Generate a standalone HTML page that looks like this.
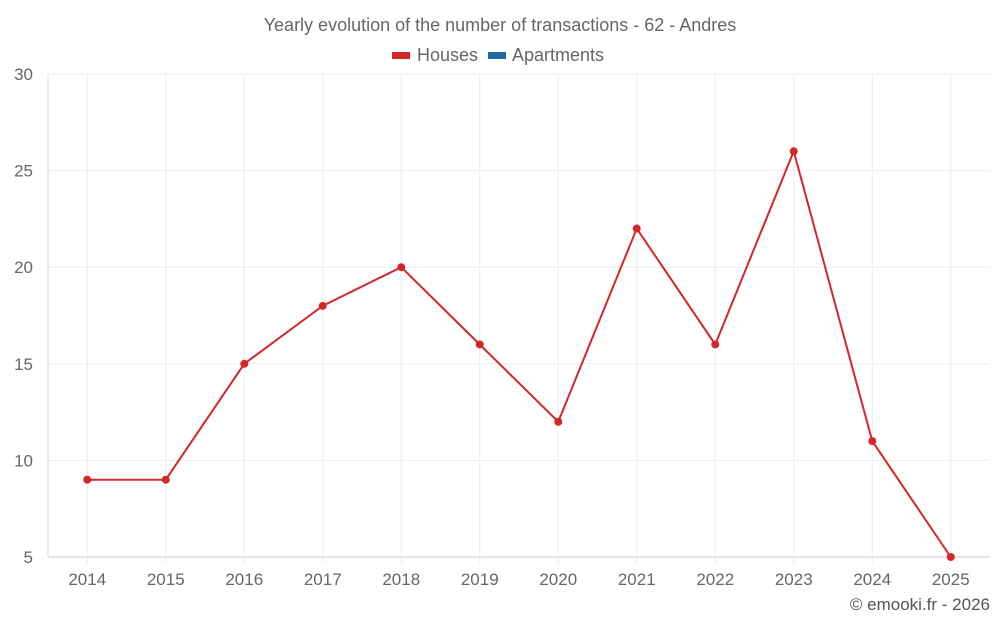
<!DOCTYPE html>
<html><head><meta charset="utf-8"><style>
body{margin:0;background:#fff;font-family:"Liberation Sans",sans-serif;}
svg text{font-family:"Liberation Sans",sans-serif;}
</style></head><body>
<svg id="chart" width="1000" height="625">
<text x="500" y="31" text-anchor="middle" font-size="18" fill="#666">Yearly evolution of the number of transactions - 62 - Andres</text>
<g>
<g><rect x="392" y="52" width="18" height="7" fill="#d62728"></rect><text x="417" y="61" font-size="18" fill="#666">Houses</text></g>
<g><rect x="488" y="52" width="18" height="7" fill="#1f6aa5"></rect><text x="512" y="61" font-size="18" fill="#666">Apartments</text></g>
</g>
<g id="grid"></g><g id="axes"></g><g id="series"></g>
<text x="990" y="610" text-anchor="end" font-size="17" fill="#555">© emooki.fr - 2026</text>
</svg>
<script>
const categories=["2014","2015","2016","2017","2018","2019","2020","2021","2022","2023","2024","2025"];
const houses=[9,9,15,18,20,16,12,22,16,26,11,5];
const yTicks=[5,10,15,20,25,30];
const L=48,R=990,T=74,B=557,yMin=5,yMax=30;
const bw=(R-L)/categories.length;
const xs=i=>L+bw*(i+0.5);
const ys=v=>B-(v-yMin)/(yMax-yMin)*(B-T);
const NS="http://www.w3.org/2000/svg";
function mk(t,a,p){const e=document.createElementNS(NS,t);for(const k in a)e.setAttribute(k,a[k]);p.appendChild(e);return e;}
const g=document.getElementById('grid'),ax=document.getElementById('axes'),s=document.getElementById('series');
yTicks.forEach(v=>{
 const l=mk('line',{x1:L,x2:R,y1:ys(v),y2:ys(v),stroke:v===yMin?'#ccc':'#ebebeb'},g);
 
 
 const t=mk('text',{x:33,y:ys(v)+6,'text-anchor':'end','font-size':17,fill:'#666'},ax);t.textContent=v;
 
 
});
categories.forEach((c,i)=>{
 const l=mk('line',{x1:xs(i),x2:xs(i),y1:T,y2:B+6,stroke:'#ebebeb'},g);
 
 
 const t=mk('text',{x:xs(i),y:585,'text-anchor':'middle','font-size':17,fill:'#666'},ax);t.textContent=c;
 
 
});
const al=mk('line',{x1:L,x2:L,y1:T,y2:B,stroke:'#ddd'},ax);


const p=mk('polyline',{points:houses.map((v,i)=>xs(i)+','+ys(v)).join(' '),fill:'none',stroke:'#d62728','stroke-width':2},s);


houses.forEach((v,i)=>{
 const c=mk('circle',{cx:xs(i),cy:ys(v),r:4,fill:'#d62728'},s);
 
 
});
</script>
</body></html>
